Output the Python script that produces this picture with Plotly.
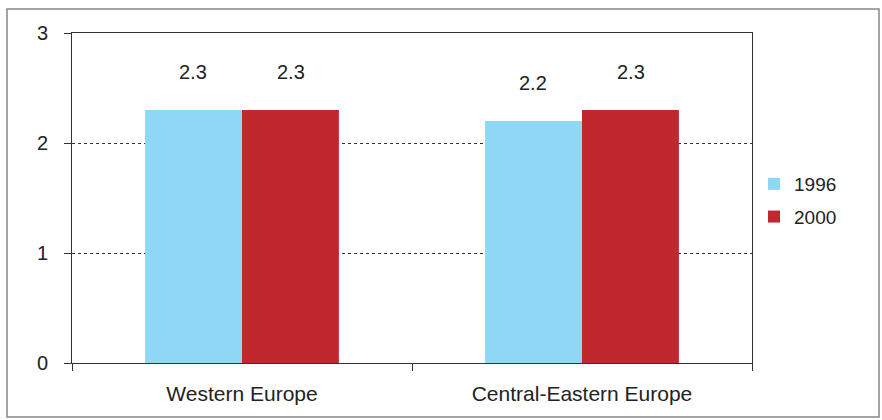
import plotly.graph_objects as go

categories = ["Western Europe", "Central-Eastern Europe"]
series_names = ["1996", "2000"]
values_1996 = [2.3, 2.2]
values_2000 = [2.3, 2.3]
y_ticks = [0, 1, 2, 3]

colors = {"1996": "#8ED8F6", "2000": "#C1272F"}

fig = go.Figure()
for name, vals in zip(series_names, [values_1996, values_2000]):
    fig.add_trace(go.Bar(
        x=categories, y=vals, name=name, legendgroup=name,
        marker=dict(color=colors[name], line=dict(width=0)),
    ))

annotations = []
for i, (name, vals) in enumerate(zip(series_names, [values_1996, values_2000])):
    shift = -49 if i == 0 else 49
    for c, v in zip(categories, vals):
        annotations.append(dict(
            x=c, y=v, text=f"{v:.1f}", showarrow=False, xshift=shift, yshift=38,
            font=dict(size=20, color="#222", family="Liberation Sans"),
        ))

W, H = 882, 420
L, R, T, B = 72, 130, 33, 57
pw, ph = W - L - R, H - T - B
def px(x):
    return (x - L) / pw
def py(y):
    return (H - B - y) / ph

fig.update_layout(
    width=W, height=H,
    margin=dict(l=L, r=R, t=T, b=B),
    paper_bgcolor="white", plot_bgcolor="white",
    barmode="group", bargap=0.43, bargroupgap=0,
    font=dict(family="Liberation Sans", size=19, color="#222"),
    showlegend=True,
    legend=dict(x=px(754), y=py(165), xanchor="left", yanchor="top",
                font=dict(size=19), bgcolor="rgba(0,0,0,0)", tracegroupgap=5),
    annotations=annotations,
    shapes=[dict(type="rect", xref="paper", yref="paper",
                 x0=px(7), x1=px(879), y0=py(417), y1=py(9),
                 line=dict(color="#888", width=1.5), layer="below")],
    xaxis=dict(
        showline=True, linecolor="#333", linewidth=1, mirror=True,
        ticks="outside", tickson="boundaries", ticklen=7, tickcolor="#333",
        tickfont=dict(family="Liberation Sans", size=21),
        showgrid=False, ticklabelstandoff=12,
    ),
    yaxis=dict(
        range=[0, 3], tickvals=y_ticks,
        showline=True, linecolor="#333", linewidth=1, mirror=True,
        ticks="outside", ticklen=7, tickcolor="#333",
        showgrid=True, gridcolor="#333", griddash="dot", gridwidth=1,
        zeroline=False, tickfont=dict(size=20), ticklabelstandoff=12,
    ),
)

fig.write_html("out.html")
